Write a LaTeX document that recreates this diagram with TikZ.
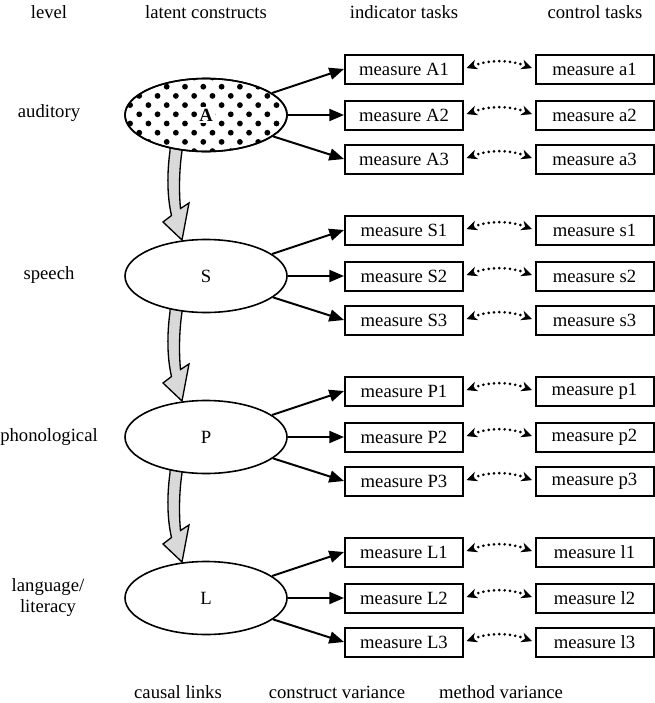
\documentclass[tikz,border=0pt]{standalone}
\usepackage{fontspec}
\setmainfont{Liberation Serif}
\usetikzlibrary{arrows.meta,shapes.geometric}
\newcommand\fatarr[1]{\draw[fatarrow, shift={(#1)}] (-6,-8) -- (-6,0) .. controls (-9,22) and (-9,45) .. (-4.5,64.5) -- (-13,71) -- (6,89) -- (13,52) -- (4.5,57.5) .. controls (3,42) and (3,20) .. (6,0) -- (6,-8) -- cycle;}
\begin{document}
\begin{tikzpicture}[x=0.75pt,y=-0.75pt,
  every node/.style={font=\fontsize{14}{15.75}\selectfont},
  latent/.style={ellipse, draw, line width=1.2pt, fill=white, minimum width=121.5pt, minimum height=54.75pt, inner sep=0pt},
  box/.style={draw, line width=1.5pt, minimum width=88.5pt, minimum height=21.75pt, inner sep=0pt},
  causal/.style={line width=1.5pt, -{Triangle[length=11pt,width=9pt]}},
  dotarrow/.style={line width=2.2pt, dash pattern=on 0pt off 4pt, line cap=round,
     {Stealth[length=8pt,width=7.5pt,inset=2.5pt,line width=0.5pt]}-{Stealth[length=8pt,width=7.5pt,inset=2.5pt,line width=0.5pt]},
     shorten <=2pt, shorten >=2pt},
  fatarrow/.style={draw, line width=1pt, fill=gray!30, line join=miter}]
\useasboundingbox (0,0) rectangle (655,703);

% causal fat arrows
\fatarr{176,151}
\fatarr{176,312}
\fatarr{176,473}

% latent constructs
\node[latent] (A) at (206,115) {};
\begin{scope}
  \clip (206,115) ellipse [x radius=81, y radius=36.5];
  \foreach \j in {-1,...,8} {
    \foreach \i in {-3,...,6} {
      \fill ({166.7+18.3*\i-9.15*mod(abs(\j),2)}, {86.7+9.2*\j}) circle [radius=2.9];
    }
  }
\end{scope}
\draw[line width=1.2pt] (206,115) ellipse [x radius=81, y radius=36.5];
\node[fill=white, inner sep=1.5pt, font=\fontsize{14}{15.75}\selectfont\bfseries] (Alab) at (A.center) {A};
\node[latent] (S) at (206,276) {S};
\node[latent] (P) at (206,437) {P};
\node[latent] (L) at (206,598) {L};

% tasks
\foreach \N/\n/\yc in {A/a/115, S/s/276, P/p/437, L/l/598} {
  \foreach \k/\dy in {1/-46, 2/0, 3/44} {
    \node[box] (\N\k) at (404,{\yc+\dy}) {measure \N\k};
    \node[box] (\n\k) at (594.5,{\yc+\dy}) {measure \n\k};
    \draw[causal] (\N) -- (\N\k.west);
    \draw[dotarrow] (\N\k.east) to[bend left=20] (\n\k.west);
  }
}

% level labels
\node (lvA) at (49,113) {auditory};
\node (lvS) at (49,275) {speech};
\node (lvP) at (49,437) {phonological};
\node[align=center] (lvL) at (48,598) {language/\\literacy};

% headers
\node (h1) at (49,12) {level};
\node (h2) at (206,12) {latent constructs};
\node (h3) at (404,12) {indicator tasks};
\node (h4) at (595,12) {control tasks};

% footers
\node (f1) at (178,692) {causal links};
\node (f2) at (337,692) {construct variance};
\node (f3) at (501,692) {method variance};
\end{tikzpicture}
\end{document}
